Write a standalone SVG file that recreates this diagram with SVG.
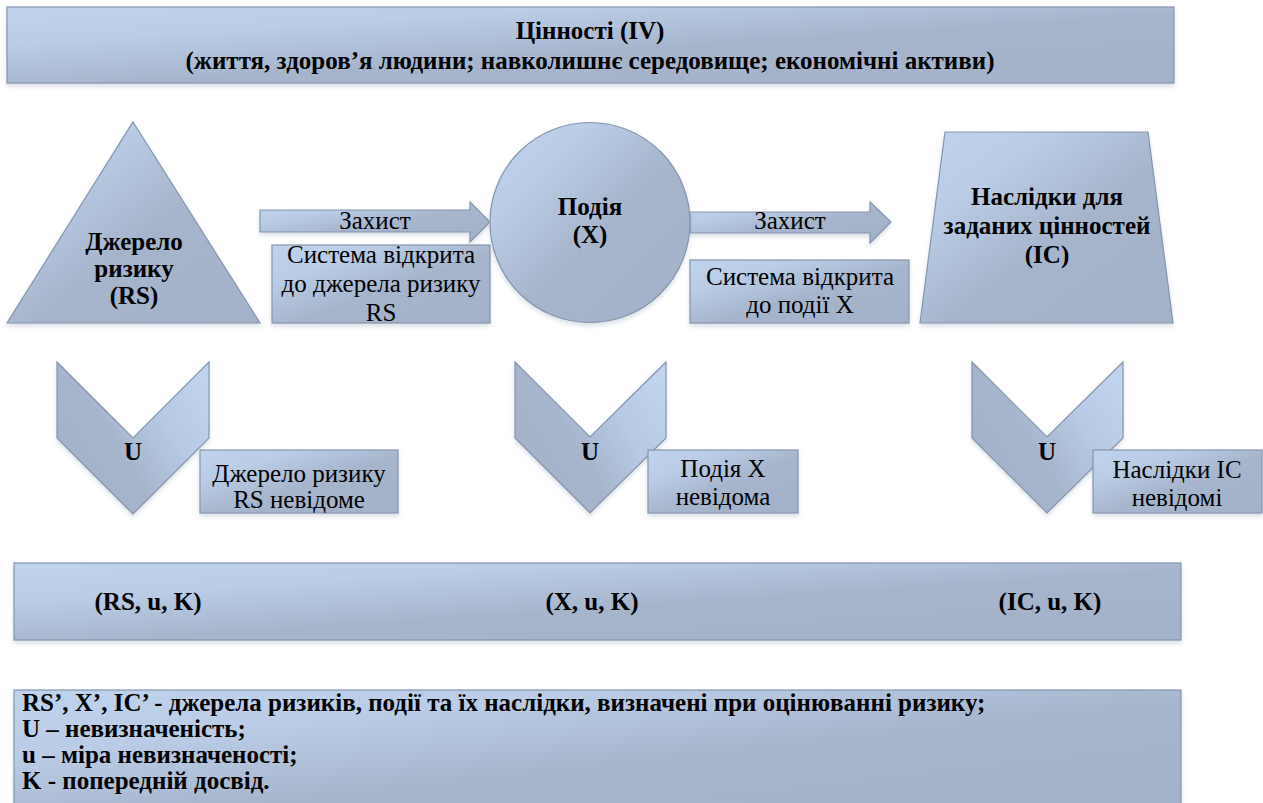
<svg xmlns="http://www.w3.org/2000/svg" width="1263" height="803" viewBox="0 0 1263 803">
<defs>
<linearGradient id="g" x1="0" y1="0" x2="1" y2="1">
<stop offset="0" stop-color="#c0d3ed"/>
<stop offset="0.25" stop-color="#bacce6"/>
<stop offset="0.55" stop-color="#a6b5cc"/>
<stop offset="1" stop-color="#a3b2c9"/>
</linearGradient>
<linearGradient id="gc" x1="1" y1="0.2" x2="0" y2="0.8">
<stop offset="0" stop-color="#c0d3ed"/>
<stop offset="0.3" stop-color="#b7c9e3"/>
<stop offset="0.6" stop-color="#a6b5cc"/>
<stop offset="1" stop-color="#a3b2c9"/>
</linearGradient>
<filter id="sh" x="-5%" y="-5%" width="110%" height="120%">
<feDropShadow dx="0" dy="3" stdDeviation="2" flood-color="#8796ad" flood-opacity="0.3"/>
</filter>
</defs>
<style>
.s{fill:url(#g);stroke:#8595ad;stroke-width:1.2;filter:url(#sh)}
.c{fill:url(#gc);stroke:#8595ad;stroke-width:1.2;filter:url(#sh)}
text{font-family:"Liberation Serif","Times New Roman","DejaVu Serif",serif;font-size:25px;fill:#000}
.b{font-weight:bold}
.m{text-anchor:middle}
</style>
<rect width="1263" height="803" fill="#fff"/>

<g id="values">
<rect class="s" x="7" y="7" width="1167" height="76"/>
<text class="b m" x="590" y="39" font-family="Liberation Serif, serif">Цінності (IV)</text>
<text class="b m" x="590" y="69" font-family="Liberation Serif, serif">(життя, здоров’я людини; навколишнє середовище; економічні активи)</text>
</g>

<g id="connectors">
<polygon class="s" points="260,210 470,210 470,202 490,222 470,242 470,232 260,232"/>
<text class="m" x="375" y="229" font-family="Liberation Serif, serif">Захист</text>
<polygon class="s" points="690,212 870,212 870,202 891,222 870,243 870,233 690,233"/>
<text class="m" x="790" y="229" font-family="Liberation Serif, serif">Захист</text>
</g>

<g id="source">
<polygon class="s" points="133,122 260,323 7,323"/>
<text class="b m" x="134" y="250" font-family="Liberation Serif, serif">Джерело</text>
<text class="b m" x="134" y="277" font-family="Liberation Serif, serif">ризику</text>
<text class="b m" x="134" y="304" font-family="Liberation Serif, serif">(RS)</text>
</g>

<g id="open-source">
<rect class="s" x="272" y="245" width="218" height="78"/>
<text class="m" x="381" y="263" font-family="Liberation Serif, serif">Система відкрита</text>
<text class="m" x="381" y="292" font-family="Liberation Serif, serif">до джерела ризику</text>
<text class="m" x="381" y="321" font-family="Liberation Serif, serif">RS</text>
</g>

<g id="event">
<circle class="s" cx="590" cy="222.5" r="100"/>
<text class="b m" x="590" y="215" font-family="Liberation Serif, serif">Подія</text>
<text class="b m" x="590" y="243" font-family="Liberation Serif, serif">(X)</text>
</g>

<g id="open-event">
<rect class="s" x="690" y="260" width="219" height="63"/>
<text class="m" x="800" y="285" font-family="Liberation Serif, serif">Система відкрита</text>
<text class="m" x="800" y="313" font-family="Liberation Serif, serif">до події X</text>
</g>

<g id="consequences">
<polygon class="s" points="945,132 1148,132 1173,323 920,323"/>
<text class="b m" x="1047" y="205" font-family="Liberation Serif, serif">Наслідки для</text>
<text class="b m" x="1047" y="234" font-family="Liberation Serif, serif">заданих цінностей</text>
<text class="b m" x="1047" y="263" font-family="Liberation Serif, serif">(IC)</text>
</g>

<g id="u1">
<polygon class="c" points="57,362 133,438 209,362 209,438 133,514 57,438"/>
<text class="b m" x="133" y="460" font-family="Liberation Serif, serif">U</text>
</g>
<g id="unknown-source">
<rect class="s" x="200" y="450" width="198" height="63"/>
<text class="m" x="299" y="482" font-family="Liberation Serif, serif">Джерело ризику</text>
<text class="m" x="299" y="508" font-family="Liberation Serif, serif">RS невідоме</text>
</g>

<g id="u2">
<polygon class="c" points="515,362 590,437 666,362 666,438 590,513 515,438"/>
<text class="b m" x="590" y="460" font-family="Liberation Serif, serif">U</text>
</g>
<g id="unknown-event">
<rect class="s" x="648" y="450" width="150" height="63"/>
<text class="m" x="723" y="477" font-family="Liberation Serif, serif">Подія X</text>
<text class="m" x="723" y="505" font-family="Liberation Serif, serif">невідома</text>
</g>

<g id="u3">
<polygon class="c" points="972,362 1047,437 1123,362 1123,438 1047,513 972,438"/>
<text class="b m" x="1047" y="460" font-family="Liberation Serif, serif">U</text>
</g>
<g id="unknown-consequences">
<rect class="s" x="1093" y="450" width="169" height="63"/>
<text class="m" x="1177" y="478" font-family="Liberation Serif, serif">Наслідки IC</text>
<text class="m" x="1177" y="506" font-family="Liberation Serif, serif">невідомі</text>
</g>

<g id="tuples">
<rect class="s" x="14" y="563" width="1167" height="77"/>
<text class="b m" x="148" y="610" font-family="Liberation Serif, serif">(RS, u, K)</text>
<text class="b m" x="592" y="610" font-family="Liberation Serif, serif">(X, u, K)</text>
<text class="b m" x="1050" y="610" font-family="Liberation Serif, serif">(IC, u, K)</text>
</g>

<g id="legend">
<rect class="s" x="14" y="690" width="1167" height="130"/>
<text class="b" x="22" y="711" font-family="Liberation Serif, serif">RS’, X’, IC’ - джерела ризиків, події та їх наслідки, визначені при оцінюванні ризику;</text>
<text class="b" x="22" y="737" font-family="Liberation Serif, serif">U – невизначеність;</text>
<text class="b" x="22" y="763" font-family="Liberation Serif, serif">u – міра невизначеності;</text>
<text class="b" x="22" y="789" font-family="Liberation Serif, serif">K - попередній досвід.</text>
</g>
</svg>
